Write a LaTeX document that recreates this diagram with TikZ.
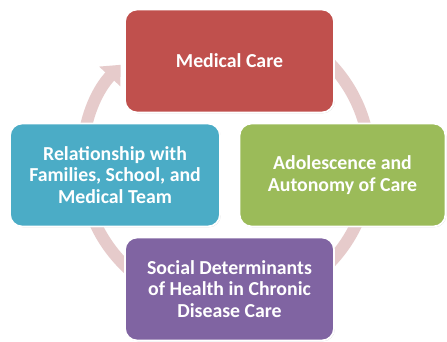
\documentclass[tikz,border=0pt]{standalone}
\usepackage{fontspec}
\setmainfont{Carlito}
\usetikzlibrary{arrows.meta,shadows}
\definecolor{cred}{HTML}{C0504D}
\definecolor{cblue}{HTML}{4BACC6}
\definecolor{cgreen}{HTML}{9BBB59}
\definecolor{cpurple}{HTML}{8064A2}
\definecolor{cring}{HTML}{E6CBCB}
\begin{document}
\begin{tikzpicture}[x=1pt,y=1pt,
  card/.style={draw=white, line width=1.8pt, rounded corners=12pt,
    minimum width=#1, minimum height=103pt, inner sep=0pt,
    text=white, align=center,
    font=\fontsize{19.8}{21.5}\selectfont\bfseries,
    drop shadow={shadow xshift=0.8pt, shadow yshift=-0.8pt, opacity=0.25, fill=black!60}},
  ring/.style={draw=cring, line width=12pt,
    -{Triangle[width=28pt,length=16pt]}}]
\useasboundingbox (0,0) rectangle (447,341);
\fill[white] (0,0) rectangle (447,341);
\coordinate (c) at (226,178);
\draw[ring] ([shift={(460:144)}]c) arc[start angle=460, end angle=137, radius=144];
\node[card=209pt, fill=cred] (med) at (229.5,280) {Medical Care};
\node[card=210pt, fill=cblue] (rel) at (115,166) {Relationship with\\Families, School, and\\Medical Team};
\node[card=206pt, fill=cgreen] (ado) at (342.5,166) {Adolescence and\\Autonomy of Care};
\node[card=209pt, fill=cpurple] (soc) at (229.5,52) {Social Determinants\\of Health in Chronic\\Disease Care};
\end{tikzpicture}
\end{document}
